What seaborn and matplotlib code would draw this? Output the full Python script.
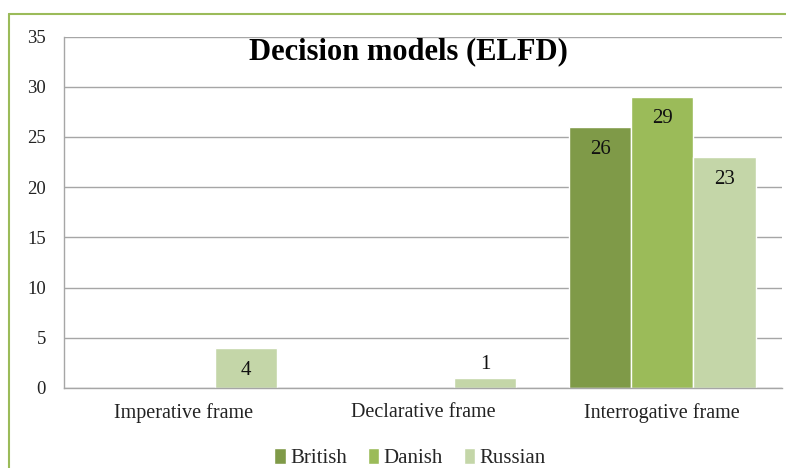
import pandas as pd
import matplotlib.pyplot as plt
import seaborn as sns
from matplotlib.lines import Line2D

# data
frames = ['Imperative frame', 'Declarative frame', 'Interrogative frame']
british = [0, 0, 26]
danish = [0, 0, 29]
russian = [4, 1, 23]
groups = ['British', 'Danish', 'Russian']
palette = ['#7F9A48', '#9BBB59', '#C4D6A8']

df = pd.DataFrame({
    'frame': frames * 3,
    'group': [g for g in groups for _ in frames],
    'value': british + danish + russian,
})

sns.set_theme(style='white')
plt.rcParams['font.family'] = ['Liberation Serif', 'DejaVu Serif']

fig = plt.figure(figsize=(7.86, 4.68), dpi=100)
ax = fig.add_axes([64 / 786, 80 / 468, 718 / 786, 351.5 / 468])

sns.barplot(data=df, x='frame', y='value', hue='group', palette=palette,
            width=0.78, saturation=1, ax=ax, legend=True)

ax.set_ylim(0, 35)
ax.set_yticks(range(0, 36, 5))
ax.yaxis.grid(True, color='#a6a6a6', lw=1)
ax.set_axisbelow(True)
for s in ['top', 'right']:
    ax.spines[s].set_visible(False)
for s in ['left', 'bottom']:
    ax.spines[s].set_color('#a6a6a6')
    ax.spines[s].set_linewidth(1)
ax.set_xlabel('')
ax.set_ylabel('')
ax.tick_params(axis='y', length=0, pad=13, labelsize=13.5, colors='#222222')
ax.tick_params(axis='x', length=0, pad=11, labelsize=14.5, colors='#222222')

# value labels: inside the top for tall bars, above for short ones
for cont in ax.containers:
    for bar in cont:
        h = bar.get_height()
        if h <= 0:
            continue
        x = bar.get_x() + bar.get_width() / 2
        off = -16 if h >= 3 else 9.5
        ax.annotate(f'{h:g}', (x, h), xytext=(0, off), textcoords='offset points',
                    ha='center', va='center', fontsize=15, color='#111111')

leg = ax.legend(loc='center', bbox_to_anchor=(410 / 786, 10 / 468),
                bbox_transform=fig.transFigure, ncol=3, frameon=False,
                handlelength=0.55, handleheight=0.8, handletextpad=0.2,
                columnspacing=1.0, fontsize=15)

fig.text(408 / 786, 1 - 52 / 468, 'Decision models (ELFD)', ha='center', va='center',
         fontsize=22, fontweight='bold', color='black')

# outer chart border (top and left edges visible)
fig.add_artist(Line2D([9 / 786, 1], [1 - 14 / 468, 1 - 14 / 468], color='#9BBB59', lw=1.5))
fig.add_artist(Line2D([9 / 786, 9 / 786], [0, 1 - 14 / 468], color='#9BBB59', lw=1.5))

fig.savefig('out.png', dpi=100)
